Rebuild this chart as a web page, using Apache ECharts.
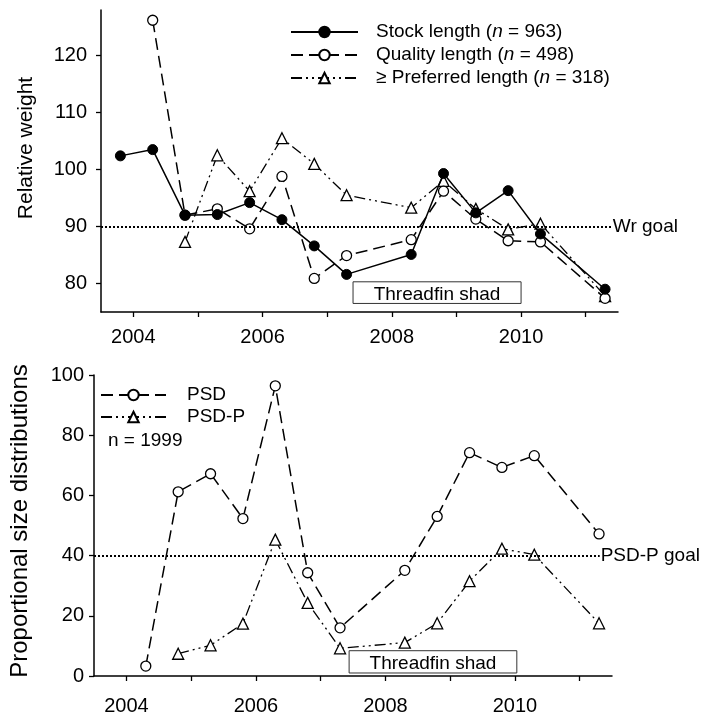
<!DOCTYPE html>
<html>
<head>
<meta charset="utf-8">
<script src="https://cdn.jsdelivr.net/npm/echarts@6/dist/echarts.min.js"></script>
<style>
  html, body { margin: 0; padding: 0; background: #fff; }
  #chart { width: 717px; height: 716px; }
</style>
</head>
<body>
<div id="chart"></div>
<script>
// ---------- Data ----------
// Top panel: relative weight
const stockYears = [2003.8, 2004.3, 2004.8, 2005.3, 2005.8, 2006.3, 2006.8, 2007.3, 2008.3, 2008.8, 2009.3, 2009.8, 2010.3, 2011.3];
const stockWr = [102.4, 103.5, 92.0, 92.1, 94.2, 91.2, 86.6, 81.6, 85.1, 99.3, 92.4, 96.3, 88.7, 79.0];
const qualityYears = [2004.3, 2004.8, 2005.3, 2005.8, 2006.3, 2006.8, 2007.3, 2008.3, 2008.8, 2009.3, 2009.8, 2010.3, 2011.3];
const qualityWr = [126.2, 92.0, 93.1, 89.6, 98.8, 80.9, 84.9, 87.7, 96.2, 91.3, 87.5, 87.3, 77.4];
const preferredYears = [2004.8, 2005.3, 2005.8, 2006.3, 2006.8, 2007.3, 2008.3, 2008.8, 2009.3, 2009.8, 2010.3, 2011.3];
const preferredWr = [87.3, 102.5, 96.2, 105.5, 101.0, 95.5, 93.3, 98.0, 93.1, 89.5, 90.5, 77.8];
const topSeriesNames = ['Stock length', 'Quality length', 'Preferred length'];
const topSeriesN = [963, 498, 318];
const wrGoal = 90;

// Bottom panel: proportional size distributions
const psdYears = [2004.3, 2004.8, 2005.3, 2005.8, 2006.3, 2006.8, 2007.3, 2008.3, 2008.8, 2009.3, 2009.8, 2010.3, 2011.3];
const psdValues = [3.3, 61.2, 67.2, 52.3, 96.4, 34.3, 16.0, 35.1, 53.0, 74.2, 69.3, 73.2, 47.2];
const psdPYears = [2004.8, 2005.3, 2005.8, 2006.3, 2006.8, 2007.3, 2008.3, 2008.8, 2009.3, 2009.8, 2010.3, 2011.3];
const psdPValues = [7.4, 10.2, 17.4, 45.3, 24.3, 9.2, 11.1, 17.5, 31.5, 42.3, 40.3, 17.5];
const bottomSeriesNames = ['PSD', 'PSD-P'];
const totalN = 1999;
const psdPGoal = 40;

// Ticks and labels
const xTickValues = [2004, 2005, 2006, 2007, 2008, 2009, 2010, 2011];
const xLabelValues = [2004, 2006, 2008, 2010];
const topYTicks = [80, 90, 100, 110, 120];
const bottomYTicks = [0, 20, 40, 60, 80, 100];
const topYTitle = 'Relative weight';
const bottomYTitle = 'Proportional size distributions';

// ---------- Helpers ----------
const zip = (xs, ys) => xs.map((x, i) => [x, ys[i]]);
const FONT = '"Liberation Sans", Arial, Helvetica, sans-serif';
const BLACK = '#000';

const dashLong = [12, 6];
const dashDotDot = [11, 4, 2, 4, 2, 4];
const goalDots = [2, 2];

function xAxisCfg(gridIndex, margin) {
  return {
    type: 'value', gridIndex: gridIndex, min: 2003.5, max: 2011.5,
    splitLine: { show: false },
    axisLine: { show: true, onZero: false, lineStyle: { color: BLACK, width: 1.5 } },
    axisTick: { show: true, inside: false, length: 5, customValues: xTickValues, lineStyle: { color: BLACK, width: 1.3 } },
    axisLabel: { show: true, customValues: xLabelValues, margin: margin, color: BLACK, fontSize: 20, fontFamily: FONT, formatter: v => String(v) }
  };
}

function yAxisCfg(gridIndex, min, max, ticks, margin) {
  return {
    type: 'value', gridIndex: gridIndex, min: min, max: max,
    splitLine: { show: false },
    axisLine: { show: true, onZero: false, lineStyle: { color: BLACK, width: 1.5 } },
    axisTick: { show: true, inside: false, length: 5, customValues: ticks, lineStyle: { color: BLACK, width: 1.3 } },
    axisLabel: { show: true, customValues: ticks, margin: margin, color: BLACK, fontSize: 20, fontFamily: FONT }
  };
}

function goalLine(endX, value, text) {
  return {
    silent: true, symbol: ['none', 'none'], animation: false,
    lineStyle: { color: BLACK, type: goalDots, width: 2 },
    label: { show: true, position: 'end', formatter: text, color: BLACK, fontSize: 19, fontFamily: FONT, distance: 1 },
    data: [[{ coord: [2003.5, value] }, { coord: [endX, value] }]]
  };
}

function shadBox(x0, y0, x1, y1) {
  return {
    silent: true, animation: false,
    itemStyle: { color: '#fff', opacity: 1, borderColor: '#333', borderWidth: 1 },
    label: { show: true, position: 'inside', offset: [0, 2], formatter: 'Threadfin shad', color: BLACK, fontSize: 19, fontFamily: FONT },
    data: [[{ coord: [x0, y0] }, { coord: [x1, y1] }]]
  };
}

const openMarker = { color: '#fff', borderColor: BLACK, borderWidth: 1.3 };

const legendLabels = {};
topSeriesNames.forEach((n, i) => {
  const prefix = i === 2 ? '≥ ' : '';
  legendLabels[n] = prefix + n + ' ({i|n} = ' + topSeriesN[i] + ')';
});

const chart = echarts.init(document.getElementById('chart'), null, { renderer: 'canvas' });

chart.setOption({
  animation: false,
  backgroundColor: '#fff',
  textStyle: { fontFamily: FONT, color: BLACK },
  grid: [
    { left: 101, right: 99, top: 10, bottom: 404 },
    { left: 94, right: 105, top: 375, bottom: 39 }
  ],
  xAxis: [xAxisCfg(0, 15), xAxisCfg(1, 20)],
  yAxis: [
    yAxisCfg(0, 75, 128, topYTicks, 14),
    yAxisCfg(1, 0, 100, bottomYTicks, 10)
  ],
  legend: [
    {
      data: topSeriesNames, orient: 'vertical', left: 290, top: 21, padding: 0,
      itemWidth: 67, itemHeight: 13, itemGap: 1,
      formatter: name => legendLabels[name],
      textStyle: { color: BLACK, fontSize: 19, fontFamily: FONT, lineHeight: 22, padding: [0, 0, 0, 13],
        rich: { i: { fontStyle: 'italic', fontSize: 19, fontFamily: FONT, color: BLACK, lineHeight: 22 } } },
      selectedMode: false
    },
    {
      data: bottomSeriesNames, orient: 'vertical', left: 100, top: 384, padding: 0,
      itemWidth: 65, itemHeight: 13, itemGap: 0,
      textStyle: { color: BLACK, fontSize: 19, fontFamily: FONT, lineHeight: 22, padding: [0, 0, 0, 16] },
      selectedMode: false
    }
  ],
  graphic: [
    { type: 'text', left: 108, top: 431, style: { text: 'n = ' + totalN, fill: BLACK, fontSize: 19, fontFamily: FONT } },
    { type: 'text', x: 26, y: 148, rotation: Math.PI / 2,
      style: { text: topYTitle, fill: BLACK, fontSize: 21, fontFamily: FONT, align: 'center', verticalAlign: 'middle' } },
    { type: 'text', x: 20, y: 521, rotation: Math.PI / 2,
      style: { text: bottomYTitle, fill: BLACK, fontSize: 24, fontFamily: FONT, align: 'center', verticalAlign: 'middle' } }
  ],
  series: [
    {
      name: topSeriesNames[0], type: 'line', xAxisIndex: 0, yAxisIndex: 0,
      data: zip(stockYears, stockWr), symbol: 'circle', symbolSize: 10, z: 5,
      lineStyle: { color: BLACK, width: 1.5, type: 'solid' },
      itemStyle: { color: BLACK, borderColor: BLACK, borderWidth: 1 },
      markLine: goalLine(2011.405, wrGoal, 'Wr goal'),
      markArea: shadBox(2007.4, 80.3, 2010.0, 76.5)
    },
    {
      name: topSeriesNames[1], type: 'line', xAxisIndex: 0, yAxisIndex: 0,
      data: zip(qualityYears, qualityWr), symbol: 'circle', symbolSize: 10, z: 4,
      lineStyle: { color: BLACK, width: 1.5, type: dashLong },
      itemStyle: openMarker
    },
    {
      name: topSeriesNames[2], type: 'line', xAxisIndex: 0, yAxisIndex: 0,
      data: zip(preferredYears, preferredWr), symbol: 'triangle', symbolSize: 11, z: 3,
      lineStyle: { color: BLACK, width: 1.3, type: dashDotDot },
      itemStyle: openMarker
    },
    {
      name: bottomSeriesNames[0], type: 'line', xAxisIndex: 1, yAxisIndex: 1,
      data: zip(psdYears, psdValues), symbol: 'circle', symbolSize: 10, z: 4,
      lineStyle: { color: BLACK, width: 1.5, type: dashLong },
      itemStyle: openMarker,
      markLine: goalLine(2011.31, psdPGoal, 'PSD-P goal'),
      markArea: shadBox(2007.44, 8.4, 2010.03, 1.0)
    },
    {
      name: bottomSeriesNames[1], type: 'line', xAxisIndex: 1, yAxisIndex: 1,
      data: zip(psdPYears, psdPValues), symbol: 'triangle', symbolSize: 11, z: 3,
      lineStyle: { color: BLACK, width: 1.3, type: dashDotDot },
      itemStyle: openMarker
    }
  ]
});
</script>
</body>
</html>
